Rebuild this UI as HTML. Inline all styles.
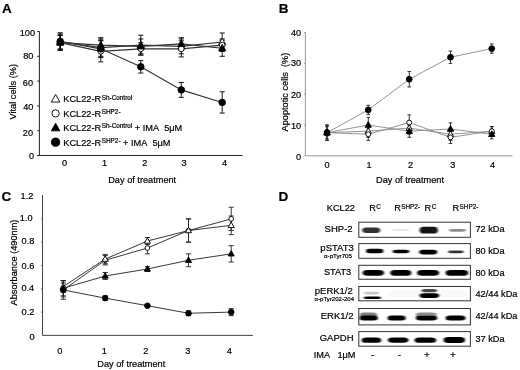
<!DOCTYPE html>
<html><head><meta charset="utf-8"><style>
html,body{margin:0;padding:0;background:#fff;}
svg{display:block;}
text{font-family:"Liberation Sans",sans-serif;fill:#000;stroke:#000;stroke-width:0.2px;}
</style></head><body>
<svg style="filter:blur(0.4px)" width="520" height="370" viewBox="0 0 520 370">
<defs><filter id="bl" x="-30%" y="-100%" width="160%" height="300%"><feGaussianBlur stdDeviation="0.9 0.6"/></filter></defs>
<rect width="520" height="370" fill="#fff"/>
<text x="2.1" y="12.8" font-size="13.5" text-anchor="start" font-weight="bold" >A</text>
<line x1="39.4" y1="31.5" x2="39.4" y2="156.0" stroke="#222" stroke-width="1"/>
<line x1="37" y1="155.5" x2="242.5" y2="155.5" stroke="#222" stroke-width="1"/>
<line x1="37.2" y1="31.5" x2="39.4" y2="31.5" stroke="#222" stroke-width="1"/>
<text x="35.0" y="36.05" font-size="9.2" text-anchor="end" font-weight="normal" >100</text>
<line x1="37.2" y1="56.3" x2="39.4" y2="56.3" stroke="#222" stroke-width="1"/>
<text x="33.4" y="58.6" font-size="9.2" text-anchor="end" font-weight="normal" >80</text>
<line x1="37.2" y1="81.1" x2="39.4" y2="81.1" stroke="#222" stroke-width="1"/>
<text x="33.1" y="85.9" font-size="9.2" text-anchor="end" font-weight="normal" >60</text>
<line x1="37.2" y1="105.9" x2="39.4" y2="105.9" stroke="#222" stroke-width="1"/>
<text x="33.4" y="110.45" font-size="9.2" text-anchor="end" font-weight="normal" >40</text>
<line x1="37.2" y1="130.7" x2="39.4" y2="130.7" stroke="#222" stroke-width="1"/>
<text x="33.1" y="135.7" font-size="9.2" text-anchor="end" font-weight="normal" >20</text>
<line x1="37.2" y1="155.5" x2="39.4" y2="155.5" stroke="#222" stroke-width="1"/>
<text x="34.1" y="158.7" font-size="9.2" text-anchor="end" font-weight="normal" >0</text>
<text x="64.6" y="165.7" font-size="9.2" text-anchor="middle" font-weight="normal" >0</text>
<text x="104.5" y="165.7" font-size="9.2" text-anchor="middle" font-weight="normal" >1</text>
<text x="144.9" y="165.7" font-size="9.2" text-anchor="middle" font-weight="normal" >2</text>
<text x="184.0" y="165.7" font-size="9.2" text-anchor="middle" font-weight="normal" >3</text>
<text x="224.6" y="165.7" font-size="9.2" text-anchor="middle" font-weight="normal" >4</text>
<text x="142.2" y="182.8" font-size="9.2" text-anchor="middle" font-weight="normal" >Day of treatment</text>
<text x="0" y="0" font-size="9.2" text-anchor="middle" transform="translate(16.0,91.7) rotate(-90)">Vital cells (%)</text>
<polyline points="60.20,41.42 100.80,47.62 140.80,45.14 181.30,46.38 222.20,42.04" fill="none" stroke="#333" stroke-width="1.1"/>
<polyline points="60.20,42.66 100.80,51.34 140.80,48.86 181.30,48.86 222.20,45.14" fill="none" stroke="#333" stroke-width="1.1"/>
<polyline points="60.20,42.66 100.80,45.14 140.80,46.38 181.30,43.90 222.20,48.24" fill="none" stroke="#333" stroke-width="1.1"/>
<polyline points="60.20,41.42 100.80,48.86 140.80,66.84 181.30,89.90 222.20,102.43" fill="none" stroke="#333" stroke-width="1.1"/>
<line x1="60.2" y1="32.739999999999995" x2="60.2" y2="50.099999999999994" stroke="#000" stroke-width="0.9"/>
<line x1="57.6" y1="32.739999999999995" x2="62.800000000000004" y2="32.739999999999995" stroke="#000" stroke-width="0.9"/>
<line x1="57.6" y1="50.099999999999994" x2="62.800000000000004" y2="50.099999999999994" stroke="#000" stroke-width="0.9"/>
<line x1="100.8" y1="38.94" x2="100.8" y2="56.3" stroke="#000" stroke-width="0.9"/>
<line x1="98.2" y1="38.94" x2="103.39999999999999" y2="38.94" stroke="#000" stroke-width="0.9"/>
<line x1="98.2" y1="56.3" x2="103.39999999999999" y2="56.3" stroke="#000" stroke-width="0.9"/>
<line x1="140.8" y1="35.22" x2="140.8" y2="55.06" stroke="#000" stroke-width="0.9"/>
<line x1="138.20000000000002" y1="35.22" x2="143.4" y2="35.22" stroke="#000" stroke-width="0.9"/>
<line x1="138.20000000000002" y1="55.06" x2="143.4" y2="55.06" stroke="#000" stroke-width="0.9"/>
<line x1="181.3" y1="38.94" x2="181.3" y2="53.81999999999999" stroke="#000" stroke-width="0.9"/>
<line x1="178.70000000000002" y1="38.94" x2="183.9" y2="38.94" stroke="#000" stroke-width="0.9"/>
<line x1="178.70000000000002" y1="53.81999999999999" x2="183.9" y2="53.81999999999999" stroke="#000" stroke-width="0.9"/>
<line x1="222.2" y1="32.988000000000014" x2="222.2" y2="51.091999999999985" stroke="#000" stroke-width="0.9"/>
<line x1="219.6" y1="32.988000000000014" x2="224.79999999999998" y2="32.988000000000014" stroke="#000" stroke-width="0.9"/>
<line x1="219.6" y1="51.091999999999985" x2="224.79999999999998" y2="51.091999999999985" stroke="#000" stroke-width="0.9"/>
<line x1="60.2" y1="35.22" x2="60.2" y2="50.099999999999994" stroke="#000" stroke-width="0.9"/>
<line x1="57.6" y1="35.22" x2="62.800000000000004" y2="35.22" stroke="#000" stroke-width="0.9"/>
<line x1="57.6" y1="50.099999999999994" x2="62.800000000000004" y2="50.099999999999994" stroke="#000" stroke-width="0.9"/>
<line x1="100.8" y1="40.8" x2="100.8" y2="61.879999999999995" stroke="#000" stroke-width="0.9"/>
<line x1="98.2" y1="40.8" x2="103.39999999999999" y2="40.8" stroke="#000" stroke-width="0.9"/>
<line x1="98.2" y1="61.879999999999995" x2="103.39999999999999" y2="61.879999999999995" stroke="#000" stroke-width="0.9"/>
<line x1="140.8" y1="42.66" x2="140.8" y2="55.06" stroke="#000" stroke-width="0.9"/>
<line x1="138.20000000000002" y1="42.66" x2="143.4" y2="42.66" stroke="#000" stroke-width="0.9"/>
<line x1="138.20000000000002" y1="55.06" x2="143.4" y2="55.06" stroke="#000" stroke-width="0.9"/>
<line x1="181.3" y1="40.8" x2="181.3" y2="56.92" stroke="#000" stroke-width="0.9"/>
<line x1="178.70000000000002" y1="40.8" x2="183.9" y2="40.8" stroke="#000" stroke-width="0.9"/>
<line x1="178.70000000000002" y1="56.92" x2="183.9" y2="56.92" stroke="#000" stroke-width="0.9"/>
<line x1="222.2" y1="38.94" x2="222.2" y2="51.34" stroke="#000" stroke-width="0.9"/>
<line x1="219.6" y1="38.94" x2="224.79999999999998" y2="38.94" stroke="#000" stroke-width="0.9"/>
<line x1="219.6" y1="51.34" x2="224.79999999999998" y2="51.34" stroke="#000" stroke-width="0.9"/>
<line x1="60.2" y1="35.22" x2="60.2" y2="50.099999999999994" stroke="#000" stroke-width="0.9"/>
<line x1="57.6" y1="35.22" x2="62.800000000000004" y2="35.22" stroke="#000" stroke-width="0.9"/>
<line x1="57.6" y1="50.099999999999994" x2="62.800000000000004" y2="50.099999999999994" stroke="#000" stroke-width="0.9"/>
<line x1="100.8" y1="37.7" x2="100.8" y2="52.58" stroke="#000" stroke-width="0.9"/>
<line x1="98.2" y1="37.7" x2="103.39999999999999" y2="37.7" stroke="#000" stroke-width="0.9"/>
<line x1="98.2" y1="52.58" x2="103.39999999999999" y2="52.58" stroke="#000" stroke-width="0.9"/>
<line x1="140.8" y1="38.94" x2="140.8" y2="53.81999999999999" stroke="#000" stroke-width="0.9"/>
<line x1="138.20000000000002" y1="38.94" x2="143.4" y2="38.94" stroke="#000" stroke-width="0.9"/>
<line x1="138.20000000000002" y1="53.81999999999999" x2="143.4" y2="53.81999999999999" stroke="#000" stroke-width="0.9"/>
<line x1="181.3" y1="37.7" x2="181.3" y2="50.099999999999994" stroke="#000" stroke-width="0.9"/>
<line x1="178.70000000000002" y1="37.7" x2="183.9" y2="37.7" stroke="#000" stroke-width="0.9"/>
<line x1="178.70000000000002" y1="50.099999999999994" x2="183.9" y2="50.099999999999994" stroke="#000" stroke-width="0.9"/>
<line x1="222.2" y1="40.18000000000001" x2="222.2" y2="56.3" stroke="#000" stroke-width="0.9"/>
<line x1="219.6" y1="40.18000000000001" x2="224.79999999999998" y2="40.18000000000001" stroke="#000" stroke-width="0.9"/>
<line x1="219.6" y1="56.3" x2="224.79999999999998" y2="56.3" stroke="#000" stroke-width="0.9"/>
<line x1="60.2" y1="33.980000000000004" x2="60.2" y2="48.86" stroke="#000" stroke-width="0.9"/>
<line x1="57.6" y1="33.980000000000004" x2="62.800000000000004" y2="33.980000000000004" stroke="#000" stroke-width="0.9"/>
<line x1="57.6" y1="48.86" x2="62.800000000000004" y2="48.86" stroke="#000" stroke-width="0.9"/>
<line x1="100.8" y1="40.18000000000001" x2="100.8" y2="57.540000000000006" stroke="#000" stroke-width="0.9"/>
<line x1="98.2" y1="40.18000000000001" x2="103.39999999999999" y2="40.18000000000001" stroke="#000" stroke-width="0.9"/>
<line x1="98.2" y1="57.540000000000006" x2="103.39999999999999" y2="57.540000000000006" stroke="#000" stroke-width="0.9"/>
<line x1="140.8" y1="60.64" x2="140.8" y2="73.04" stroke="#000" stroke-width="0.9"/>
<line x1="138.20000000000002" y1="60.64" x2="143.4" y2="60.64" stroke="#000" stroke-width="0.9"/>
<line x1="138.20000000000002" y1="73.04" x2="143.4" y2="73.04" stroke="#000" stroke-width="0.9"/>
<line x1="181.3" y1="82.464" x2="181.3" y2="97.34400000000001" stroke="#000" stroke-width="0.9"/>
<line x1="178.70000000000002" y1="82.464" x2="183.9" y2="82.464" stroke="#000" stroke-width="0.9"/>
<line x1="178.70000000000002" y1="97.34400000000001" x2="183.9" y2="97.34400000000001" stroke="#000" stroke-width="0.9"/>
<line x1="222.2" y1="91.76400000000001" x2="222.2" y2="113.09200000000001" stroke="#000" stroke-width="0.9"/>
<line x1="219.6" y1="91.76400000000001" x2="224.79999999999998" y2="91.76400000000001" stroke="#000" stroke-width="0.9"/>
<line x1="219.6" y1="113.09200000000001" x2="224.79999999999998" y2="113.09200000000001" stroke="#000" stroke-width="0.9"/>
<polygon points="60.20,37.58 56.60,43.98 63.80,43.98" fill="#fff" stroke="#000" stroke-width="0.9" stroke-linejoin="miter"/>
<polygon points="100.80,43.78 97.20,50.18 104.40,50.18" fill="#fff" stroke="#000" stroke-width="0.9" stroke-linejoin="miter"/>
<polygon points="140.80,41.30 137.20,47.70 144.40,47.70" fill="#fff" stroke="#000" stroke-width="0.9" stroke-linejoin="miter"/>
<polygon points="181.30,42.54 177.70,48.94 184.90,48.94" fill="#fff" stroke="#000" stroke-width="0.9" stroke-linejoin="miter"/>
<polygon points="222.20,38.20 218.60,44.60 225.80,44.60" fill="#fff" stroke="#000" stroke-width="0.9" stroke-linejoin="miter"/>
<circle cx="60.20" cy="42.66" r="2.85" fill="#fff" stroke="#000" stroke-width="0.9"/>
<circle cx="100.80" cy="51.34" r="2.85" fill="#fff" stroke="#000" stroke-width="0.9"/>
<circle cx="140.80" cy="48.86" r="2.85" fill="#fff" stroke="#000" stroke-width="0.9"/>
<circle cx="181.30" cy="48.86" r="2.85" fill="#fff" stroke="#000" stroke-width="0.9"/>
<circle cx="222.20" cy="45.14" r="2.85" fill="#fff" stroke="#000" stroke-width="0.9"/>
<polygon points="60.20,38.82 56.60,45.22 63.80,45.22" fill="#000" stroke="#000" stroke-width="0.9" stroke-linejoin="miter"/>
<polygon points="100.80,41.30 97.20,47.70 104.40,47.70" fill="#000" stroke="#000" stroke-width="0.9" stroke-linejoin="miter"/>
<polygon points="140.80,42.54 137.20,48.94 144.40,48.94" fill="#000" stroke="#000" stroke-width="0.9" stroke-linejoin="miter"/>
<polygon points="181.30,40.06 177.70,46.46 184.90,46.46" fill="#000" stroke="#000" stroke-width="0.9" stroke-linejoin="miter"/>
<polygon points="222.20,44.40 218.60,50.80 225.80,50.80" fill="#000" stroke="#000" stroke-width="0.9" stroke-linejoin="miter"/>
<circle cx="60.20" cy="41.42" r="3.30" fill="#000" stroke="#000" stroke-width="0.9"/>
<circle cx="100.80" cy="48.86" r="3.30" fill="#000" stroke="#000" stroke-width="0.9"/>
<circle cx="140.80" cy="66.84" r="3.30" fill="#000" stroke="#000" stroke-width="0.9"/>
<circle cx="181.30" cy="89.90" r="3.30" fill="#000" stroke="#000" stroke-width="0.9"/>
<circle cx="222.20" cy="102.43" r="3.30" fill="#000" stroke="#000" stroke-width="0.9"/>
<polygon points="55.60,94.47 51.35,102.02 59.85,102.02" fill="#fff" stroke="#000" stroke-width="0.9" stroke-linejoin="miter"/>
<text x="63.3" y="102.40" font-size="9.2">KCL22-R<tspan font-size="6.4" dy="-2.8" dx="0.6">Sh-Control</tspan><tspan dy="2.8"></tspan></text>
<circle cx="55.60" cy="113.40" r="3.67" fill="#fff" stroke="#000" stroke-width="0.9"/>
<text x="63.3" y="116.80" font-size="9.2">KCL22-R<tspan font-size="6.4" dy="-2.8" dx="0.6">SHP2-</tspan><tspan dy="2.8"></tspan></text>
<polygon points="55.60,123.27 51.35,130.82 59.85,130.82" fill="#000" stroke="#000" stroke-width="0.9" stroke-linejoin="miter"/>
<text x="63.3" y="131.20" font-size="9.2">KCL22-R<tspan font-size="6.4" dy="-2.8" dx="0.6">Sh-Control</tspan><tspan dy="2.8"> + IMA&#160;&#160;5μM</tspan></text>
<circle cx="55.60" cy="142.20" r="4.12" fill="#000" stroke="#000" stroke-width="0.9"/>
<text x="63.3" y="145.60" font-size="9.2">KCL22-R<tspan font-size="6.4" dy="-2.8" dx="0.6">SHP2-</tspan><tspan dy="2.8"> + IMA&#160;&#160;5μM</tspan></text>
<text x="278.8" y="12.7" font-size="13.5" text-anchor="start" font-weight="bold" >B</text>
<line x1="305.4" y1="32.1" x2="305.4" y2="155.8" stroke="#999" stroke-width="1"/>
<line x1="305.4" y1="155.8" x2="512.5" y2="155.8" stroke="#999" stroke-width="1"/>
<line x1="304.09999999999997" y1="32.6" x2="305.4" y2="32.6" stroke="#999" stroke-width="1"/>
<text x="301.2" y="35.8" font-size="9.2" text-anchor="end" font-weight="normal" >40</text>
<line x1="304.09999999999997" y1="63.400000000000006" x2="305.4" y2="63.400000000000006" stroke="#999" stroke-width="1"/>
<text x="301.2" y="65.97" font-size="9.2" text-anchor="end" font-weight="normal" >30</text>
<line x1="304.09999999999997" y1="94.20000000000002" x2="305.4" y2="94.20000000000002" stroke="#999" stroke-width="1"/>
<text x="301.2" y="97.7" font-size="9.2" text-anchor="end" font-weight="normal" >20</text>
<line x1="304.09999999999997" y1="125.0" x2="305.4" y2="125.0" stroke="#999" stroke-width="1"/>
<text x="301.2" y="128.8" font-size="9.2" text-anchor="end" font-weight="normal" >10</text>
<line x1="304.09999999999997" y1="155.8" x2="305.4" y2="155.8" stroke="#999" stroke-width="1"/>
<text x="301.2" y="160.2" font-size="9.2" text-anchor="end" font-weight="normal" >0</text>
<text x="327.0" y="167.6" font-size="9.2" text-anchor="middle" font-weight="normal" >0</text>
<text x="369.0" y="167.6" font-size="9.2" text-anchor="middle" font-weight="normal" >1</text>
<text x="410.5" y="167.6" font-size="9.2" text-anchor="middle" font-weight="normal" >2</text>
<text x="452.8" y="167.6" font-size="9.2" text-anchor="middle" font-weight="normal" >3</text>
<text x="492.5" y="167.6" font-size="9.2" text-anchor="middle" font-weight="normal" >4</text>
<text x="410" y="183.2" font-size="9.2" text-anchor="middle" font-weight="normal" >Day of treatment</text>
<text x="0" y="0" font-size="9.2" text-anchor="middle" transform="translate(287.8,92.1) rotate(-90)">Apoptotic cells&#160;&#160;(%)</text>
<polyline points="327.00,132.70 368.25,131.16 409.25,128.08 450.50,134.24 491.75,131.16" fill="none" stroke="#888" stroke-width="0.9"/>
<polyline points="327.00,132.70 368.25,134.24 409.25,122.54 450.50,137.32 491.75,131.16" fill="none" stroke="#888" stroke-width="0.9"/>
<polyline points="327.00,132.70 368.25,125.00 409.25,131.16 450.50,129.00 491.75,134.24" fill="none" stroke="#888" stroke-width="0.9"/>
<polyline points="327.00,132.70 368.25,109.91 409.25,79.26 450.50,57.24 491.75,48.62" fill="none" stroke="#888" stroke-width="0.9"/>
<line x1="327.0" y1="125.0" x2="327.0" y2="140.4" stroke="#222" stroke-width="0.9"/>
<line x1="325.2" y1="125.0" x2="328.8" y2="125.0" stroke="#222" stroke-width="0.9"/>
<line x1="325.2" y1="140.4" x2="328.8" y2="140.4" stroke="#222" stroke-width="0.9"/>
<line x1="368.25" y1="125.0" x2="368.25" y2="137.32000000000002" stroke="#222" stroke-width="0.9"/>
<line x1="366.45" y1="125.0" x2="370.05" y2="125.0" stroke="#222" stroke-width="0.9"/>
<line x1="366.45" y1="137.32000000000002" x2="370.05" y2="137.32000000000002" stroke="#222" stroke-width="0.9"/>
<line x1="409.25" y1="121.92" x2="409.25" y2="134.24" stroke="#222" stroke-width="0.9"/>
<line x1="407.45" y1="121.92" x2="411.05" y2="121.92" stroke="#222" stroke-width="0.9"/>
<line x1="407.45" y1="134.24" x2="411.05" y2="134.24" stroke="#222" stroke-width="0.9"/>
<line x1="450.5" y1="128.08" x2="450.5" y2="140.4" stroke="#222" stroke-width="0.9"/>
<line x1="448.7" y1="128.08" x2="452.3" y2="128.08" stroke="#222" stroke-width="0.9"/>
<line x1="448.7" y1="140.4" x2="452.3" y2="140.4" stroke="#222" stroke-width="0.9"/>
<line x1="491.75" y1="126.54" x2="491.75" y2="135.78" stroke="#222" stroke-width="0.9"/>
<line x1="489.95" y1="126.54" x2="493.55" y2="126.54" stroke="#222" stroke-width="0.9"/>
<line x1="489.95" y1="135.78" x2="493.55" y2="135.78" stroke="#222" stroke-width="0.9"/>
<line x1="327.0" y1="126.54" x2="327.0" y2="138.86" stroke="#222" stroke-width="0.9"/>
<line x1="325.2" y1="126.54" x2="328.8" y2="126.54" stroke="#222" stroke-width="0.9"/>
<line x1="325.2" y1="138.86" x2="328.8" y2="138.86" stroke="#222" stroke-width="0.9"/>
<line x1="368.25" y1="128.08" x2="368.25" y2="140.4" stroke="#222" stroke-width="0.9"/>
<line x1="366.45" y1="128.08" x2="370.05" y2="128.08" stroke="#222" stroke-width="0.9"/>
<line x1="366.45" y1="140.4" x2="370.05" y2="140.4" stroke="#222" stroke-width="0.9"/>
<line x1="409.25" y1="114.836" x2="409.25" y2="130.23600000000002" stroke="#222" stroke-width="0.9"/>
<line x1="407.45" y1="114.836" x2="411.05" y2="114.836" stroke="#222" stroke-width="0.9"/>
<line x1="407.45" y1="130.23600000000002" x2="411.05" y2="130.23600000000002" stroke="#222" stroke-width="0.9"/>
<line x1="450.5" y1="131.16" x2="450.5" y2="143.48000000000002" stroke="#222" stroke-width="0.9"/>
<line x1="448.7" y1="131.16" x2="452.3" y2="131.16" stroke="#222" stroke-width="0.9"/>
<line x1="448.7" y1="143.48000000000002" x2="452.3" y2="143.48000000000002" stroke="#222" stroke-width="0.9"/>
<line x1="491.75" y1="126.54" x2="491.75" y2="135.78" stroke="#222" stroke-width="0.9"/>
<line x1="489.95" y1="126.54" x2="493.55" y2="126.54" stroke="#222" stroke-width="0.9"/>
<line x1="489.95" y1="135.78" x2="493.55" y2="135.78" stroke="#222" stroke-width="0.9"/>
<line x1="327.0" y1="125.0" x2="327.0" y2="140.4" stroke="#222" stroke-width="0.9"/>
<line x1="325.2" y1="125.0" x2="328.8" y2="125.0" stroke="#222" stroke-width="0.9"/>
<line x1="325.2" y1="140.4" x2="328.8" y2="140.4" stroke="#222" stroke-width="0.9"/>
<line x1="368.25" y1="117.30000000000001" x2="368.25" y2="132.70000000000002" stroke="#222" stroke-width="0.9"/>
<line x1="366.45" y1="117.30000000000001" x2="370.05" y2="117.30000000000001" stroke="#222" stroke-width="0.9"/>
<line x1="366.45" y1="132.70000000000002" x2="370.05" y2="132.70000000000002" stroke="#222" stroke-width="0.9"/>
<line x1="409.25" y1="125.0" x2="409.25" y2="137.32000000000002" stroke="#222" stroke-width="0.9"/>
<line x1="407.45" y1="125.0" x2="411.05" y2="125.0" stroke="#222" stroke-width="0.9"/>
<line x1="407.45" y1="137.32000000000002" x2="411.05" y2="137.32000000000002" stroke="#222" stroke-width="0.9"/>
<line x1="450.5" y1="122.84400000000001" x2="450.5" y2="135.16400000000002" stroke="#222" stroke-width="0.9"/>
<line x1="448.7" y1="122.84400000000001" x2="452.3" y2="122.84400000000001" stroke="#222" stroke-width="0.9"/>
<line x1="448.7" y1="135.16400000000002" x2="452.3" y2="135.16400000000002" stroke="#222" stroke-width="0.9"/>
<line x1="491.75" y1="129.62" x2="491.75" y2="138.86" stroke="#222" stroke-width="0.9"/>
<line x1="489.95" y1="129.62" x2="493.55" y2="129.62" stroke="#222" stroke-width="0.9"/>
<line x1="489.95" y1="138.86" x2="493.55" y2="138.86" stroke="#222" stroke-width="0.9"/>
<line x1="327.0" y1="129.62" x2="327.0" y2="135.78" stroke="#222" stroke-width="0.9"/>
<line x1="325.2" y1="129.62" x2="328.8" y2="129.62" stroke="#222" stroke-width="0.9"/>
<line x1="325.2" y1="135.78" x2="328.8" y2="135.78" stroke="#222" stroke-width="0.9"/>
<line x1="368.25" y1="105.28800000000001" x2="368.25" y2="114.528" stroke="#222" stroke-width="0.9"/>
<line x1="366.45" y1="105.28800000000001" x2="370.05" y2="105.28800000000001" stroke="#222" stroke-width="0.9"/>
<line x1="366.45" y1="114.528" x2="370.05" y2="114.528" stroke="#222" stroke-width="0.9"/>
<line x1="409.25" y1="71.562" x2="409.25" y2="86.962" stroke="#222" stroke-width="0.9"/>
<line x1="407.45" y1="71.562" x2="411.05" y2="71.562" stroke="#222" stroke-width="0.9"/>
<line x1="407.45" y1="86.962" x2="411.05" y2="86.962" stroke="#222" stroke-width="0.9"/>
<line x1="450.5" y1="51.08000000000001" x2="450.5" y2="63.400000000000006" stroke="#222" stroke-width="0.9"/>
<line x1="448.7" y1="51.08000000000001" x2="452.3" y2="51.08000000000001" stroke="#222" stroke-width="0.9"/>
<line x1="448.7" y1="63.400000000000006" x2="452.3" y2="63.400000000000006" stroke="#222" stroke-width="0.9"/>
<line x1="491.75" y1="43.99600000000001" x2="491.75" y2="53.236000000000004" stroke="#222" stroke-width="0.9"/>
<line x1="489.95" y1="43.99600000000001" x2="493.55" y2="43.99600000000001" stroke="#222" stroke-width="0.9"/>
<line x1="489.95" y1="53.236000000000004" x2="493.55" y2="53.236000000000004" stroke="#222" stroke-width="0.9"/>
<polygon points="327.00,129.32 323.83,134.95 330.17,134.95" fill="#fff" stroke="#000" stroke-width="0.9" stroke-linejoin="miter"/>
<polygon points="368.25,127.78 365.08,133.41 371.42,133.41" fill="#fff" stroke="#000" stroke-width="0.9" stroke-linejoin="miter"/>
<polygon points="409.25,124.70 406.08,130.33 412.42,130.33" fill="#fff" stroke="#000" stroke-width="0.9" stroke-linejoin="miter"/>
<polygon points="450.50,130.86 447.33,136.49 453.67,136.49" fill="#fff" stroke="#000" stroke-width="0.9" stroke-linejoin="miter"/>
<polygon points="491.75,127.78 488.58,133.41 494.92,133.41" fill="#fff" stroke="#000" stroke-width="0.9" stroke-linejoin="miter"/>
<circle cx="327.00" cy="132.70" r="2.45" fill="#fff" stroke="#000" stroke-width="0.9"/>
<circle cx="368.25" cy="134.24" r="2.45" fill="#fff" stroke="#000" stroke-width="0.9"/>
<circle cx="409.25" cy="122.54" r="2.45" fill="#fff" stroke="#000" stroke-width="0.9"/>
<circle cx="450.50" cy="137.32" r="2.45" fill="#fff" stroke="#000" stroke-width="0.9"/>
<circle cx="491.75" cy="131.16" r="2.45" fill="#fff" stroke="#000" stroke-width="0.9"/>
<polygon points="327.00,129.32 323.83,134.95 330.17,134.95" fill="#000" stroke="#000" stroke-width="0.9" stroke-linejoin="miter"/>
<polygon points="368.25,121.62 365.08,127.25 371.42,127.25" fill="#000" stroke="#000" stroke-width="0.9" stroke-linejoin="miter"/>
<polygon points="409.25,127.78 406.08,133.41 412.42,133.41" fill="#000" stroke="#000" stroke-width="0.9" stroke-linejoin="miter"/>
<polygon points="450.50,125.62 447.33,131.26 453.67,131.26" fill="#000" stroke="#000" stroke-width="0.9" stroke-linejoin="miter"/>
<polygon points="491.75,130.86 488.58,136.49 494.92,136.49" fill="#000" stroke="#000" stroke-width="0.9" stroke-linejoin="miter"/>
<circle cx="327.00" cy="132.70" r="2.90" fill="#000" stroke="#000" stroke-width="0.9"/>
<circle cx="368.25" cy="109.91" r="2.90" fill="#000" stroke="#000" stroke-width="0.9"/>
<circle cx="409.25" cy="79.26" r="2.90" fill="#000" stroke="#000" stroke-width="0.9"/>
<circle cx="450.50" cy="57.24" r="2.90" fill="#000" stroke="#000" stroke-width="0.9"/>
<circle cx="491.75" cy="48.62" r="2.90" fill="#000" stroke="#000" stroke-width="0.9"/>
<text x="1.4" y="201.0" font-size="13.5" text-anchor="start" font-weight="bold" >C</text>
<line x1="42.5" y1="195.0" x2="42.5" y2="335.4" stroke="#444" stroke-width="1"/>
<line x1="42.5" y1="335.4" x2="253" y2="335.4" stroke="#444" stroke-width="1"/>
<text x="33.4" y="198.9" font-size="9.2" text-anchor="end" font-weight="normal" >1.2</text>
<text x="32.6" y="220.9" font-size="9.2" text-anchor="end" font-weight="normal" >1.0</text>
<text x="34.4" y="243.9" font-size="9.2" text-anchor="end" font-weight="normal" >0.8</text>
<text x="34.4" y="269.4" font-size="9.2" text-anchor="end" font-weight="normal" >0.6</text>
<text x="34.2" y="291.3" font-size="9.2" text-anchor="end" font-weight="normal" >0.4</text>
<text x="34.4" y="315.15" font-size="9.2" text-anchor="end" font-weight="normal" >0.2</text>
<text x="34.7" y="339.95" font-size="9.2" text-anchor="end" font-weight="normal" >0</text>
<line x1="41.3" y1="312.09999999999997" x2="42.5" y2="312.09999999999997" stroke="#444" stroke-width="1"/>
<line x1="41.3" y1="288.79999999999995" x2="42.5" y2="288.79999999999995" stroke="#444" stroke-width="1"/>
<line x1="41.3" y1="265.5" x2="42.5" y2="265.5" stroke="#444" stroke-width="1"/>
<line x1="41.3" y1="242.2" x2="42.5" y2="242.2" stroke="#444" stroke-width="1"/>
<line x1="41.3" y1="218.9" x2="42.5" y2="218.9" stroke="#444" stroke-width="1"/>
<text x="59.9" y="354.2" font-size="9.2" text-anchor="middle" font-weight="normal" >0</text>
<text x="104.2" y="354.2" font-size="9.2" text-anchor="middle" font-weight="normal" >1</text>
<text x="145.8" y="354.2" font-size="9.2" text-anchor="middle" font-weight="normal" >2</text>
<text x="187.8" y="354.2" font-size="9.2" text-anchor="middle" font-weight="normal" >3</text>
<text x="229.3" y="354.2" font-size="9.2" text-anchor="middle" font-weight="normal" >4</text>
<text x="131.3" y="367.0" font-size="9.2" text-anchor="middle" font-weight="normal" >Day of treatment</text>
<text x="0" y="0" font-size="9.2" text-anchor="middle" transform="translate(17.4,262.5) rotate(-90)">Absorbance (490nm)</text>
<polyline points="63.30,289.96 105.20,260.26 147.40,248.03 188.50,230.55 231.20,218.90" fill="none" stroke="#222" stroke-width="0.9"/>
<polyline points="63.30,286.47 105.20,259.09 147.40,241.03 188.50,230.55 231.20,225.31" fill="none" stroke="#222" stroke-width="0.9"/>
<polyline points="63.30,289.96 105.20,298.12 147.40,305.69 188.50,313.26 231.20,312.10" fill="none" stroke="#222" stroke-width="0.9"/>
<polyline points="63.30,288.22 105.20,275.99 147.40,269.00 188.50,260.26 231.20,253.85" fill="none" stroke="#222" stroke-width="0.9"/>
<line x1="63.3" y1="280.645" x2="63.3" y2="299.28499999999997" stroke="#222" stroke-width="0.9"/>
<line x1="60.699999999999996" y1="280.645" x2="65.89999999999999" y2="280.645" stroke="#222" stroke-width="0.9"/>
<line x1="60.699999999999996" y1="299.28499999999997" x2="65.89999999999999" y2="299.28499999999997" stroke="#222" stroke-width="0.9"/>
<line x1="105.2" y1="255.5975" x2="105.2" y2="264.9175" stroke="#222" stroke-width="0.9"/>
<line x1="102.60000000000001" y1="255.5975" x2="107.8" y2="255.5975" stroke="#222" stroke-width="0.9"/>
<line x1="102.60000000000001" y1="264.9175" x2="107.8" y2="264.9175" stroke="#222" stroke-width="0.9"/>
<line x1="147.4" y1="242.2" x2="147.4" y2="253.85000000000002" stroke="#222" stroke-width="0.9"/>
<line x1="144.8" y1="242.2" x2="150.0" y2="242.2" stroke="#222" stroke-width="0.9"/>
<line x1="144.8" y1="253.85000000000002" x2="150.0" y2="253.85000000000002" stroke="#222" stroke-width="0.9"/>
<line x1="188.5" y1="218.9" x2="188.5" y2="242.2" stroke="#222" stroke-width="0.9"/>
<line x1="185.9" y1="218.9" x2="191.1" y2="218.9" stroke="#222" stroke-width="0.9"/>
<line x1="185.9" y1="242.2" x2="191.1" y2="242.2" stroke="#222" stroke-width="0.9"/>
<line x1="231.2" y1="207.25" x2="231.2" y2="230.55" stroke="#222" stroke-width="0.9"/>
<line x1="228.6" y1="207.25" x2="233.79999999999998" y2="207.25" stroke="#222" stroke-width="0.9"/>
<line x1="228.6" y1="230.55" x2="233.79999999999998" y2="230.55" stroke="#222" stroke-width="0.9"/>
<line x1="63.3" y1="280.645" x2="63.3" y2="292.29499999999996" stroke="#222" stroke-width="0.9"/>
<line x1="60.699999999999996" y1="280.645" x2="65.89999999999999" y2="280.645" stroke="#222" stroke-width="0.9"/>
<line x1="60.699999999999996" y1="292.29499999999996" x2="65.89999999999999" y2="292.29499999999996" stroke="#222" stroke-width="0.9"/>
<line x1="105.2" y1="254.4325" x2="105.2" y2="263.7525" stroke="#222" stroke-width="0.9"/>
<line x1="102.60000000000001" y1="254.4325" x2="107.8" y2="254.4325" stroke="#222" stroke-width="0.9"/>
<line x1="102.60000000000001" y1="263.7525" x2="107.8" y2="263.7525" stroke="#222" stroke-width="0.9"/>
<line x1="147.4" y1="237.54" x2="147.4" y2="244.53" stroke="#222" stroke-width="0.9"/>
<line x1="144.8" y1="237.54" x2="150.0" y2="237.54" stroke="#222" stroke-width="0.9"/>
<line x1="144.8" y1="244.53" x2="150.0" y2="244.53" stroke="#222" stroke-width="0.9"/>
<line x1="188.5" y1="218.9" x2="188.5" y2="242.2" stroke="#222" stroke-width="0.9"/>
<line x1="185.9" y1="218.9" x2="191.1" y2="218.9" stroke="#222" stroke-width="0.9"/>
<line x1="185.9" y1="242.2" x2="191.1" y2="242.2" stroke="#222" stroke-width="0.9"/>
<line x1="231.2" y1="215.9875" x2="231.2" y2="234.6275" stroke="#222" stroke-width="0.9"/>
<line x1="228.6" y1="215.9875" x2="233.79999999999998" y2="215.9875" stroke="#222" stroke-width="0.9"/>
<line x1="228.6" y1="234.6275" x2="233.79999999999998" y2="234.6275" stroke="#222" stroke-width="0.9"/>
<line x1="63.3" y1="282.97499999999997" x2="63.3" y2="296.955" stroke="#222" stroke-width="0.9"/>
<line x1="60.699999999999996" y1="282.97499999999997" x2="65.89999999999999" y2="282.97499999999997" stroke="#222" stroke-width="0.9"/>
<line x1="60.699999999999996" y1="296.955" x2="65.89999999999999" y2="296.955" stroke="#222" stroke-width="0.9"/>
<line x1="105.2" y1="295.78999999999996" x2="105.2" y2="300.45" stroke="#222" stroke-width="0.9"/>
<line x1="102.60000000000001" y1="295.78999999999996" x2="107.8" y2="295.78999999999996" stroke="#222" stroke-width="0.9"/>
<line x1="102.60000000000001" y1="300.45" x2="107.8" y2="300.45" stroke="#222" stroke-width="0.9"/>
<line x1="147.4" y1="304.5275" x2="147.4" y2="306.85749999999996" stroke="#222" stroke-width="0.9"/>
<line x1="144.8" y1="304.5275" x2="150.0" y2="304.5275" stroke="#222" stroke-width="0.9"/>
<line x1="144.8" y1="306.85749999999996" x2="150.0" y2="306.85749999999996" stroke="#222" stroke-width="0.9"/>
<line x1="188.5" y1="310.935" x2="188.5" y2="315.59499999999997" stroke="#222" stroke-width="0.9"/>
<line x1="185.9" y1="310.935" x2="191.1" y2="310.935" stroke="#222" stroke-width="0.9"/>
<line x1="185.9" y1="315.59499999999997" x2="191.1" y2="315.59499999999997" stroke="#222" stroke-width="0.9"/>
<line x1="231.2" y1="308.60499999999996" x2="231.2" y2="315.59499999999997" stroke="#222" stroke-width="0.9"/>
<line x1="228.6" y1="308.60499999999996" x2="233.79999999999998" y2="308.60499999999996" stroke="#222" stroke-width="0.9"/>
<line x1="228.6" y1="315.59499999999997" x2="233.79999999999998" y2="315.59499999999997" stroke="#222" stroke-width="0.9"/>
<line x1="63.3" y1="280.645" x2="63.3" y2="295.78999999999996" stroke="#222" stroke-width="0.9"/>
<line x1="60.699999999999996" y1="280.645" x2="65.89999999999999" y2="280.645" stroke="#222" stroke-width="0.9"/>
<line x1="60.699999999999996" y1="295.78999999999996" x2="65.89999999999999" y2="295.78999999999996" stroke="#222" stroke-width="0.9"/>
<line x1="105.2" y1="272.49" x2="105.2" y2="279.48" stroke="#222" stroke-width="0.9"/>
<line x1="102.60000000000001" y1="272.49" x2="107.8" y2="272.49" stroke="#222" stroke-width="0.9"/>
<line x1="102.60000000000001" y1="279.48" x2="107.8" y2="279.48" stroke="#222" stroke-width="0.9"/>
<line x1="147.4" y1="266.66499999999996" x2="147.4" y2="271.325" stroke="#222" stroke-width="0.9"/>
<line x1="144.8" y1="266.66499999999996" x2="150.0" y2="266.66499999999996" stroke="#222" stroke-width="0.9"/>
<line x1="144.8" y1="271.325" x2="150.0" y2="271.325" stroke="#222" stroke-width="0.9"/>
<line x1="188.5" y1="253.85" x2="188.5" y2="266.66499999999996" stroke="#222" stroke-width="0.9"/>
<line x1="185.9" y1="253.85" x2="191.1" y2="253.85" stroke="#222" stroke-width="0.9"/>
<line x1="185.9" y1="266.66499999999996" x2="191.1" y2="266.66499999999996" stroke="#222" stroke-width="0.9"/>
<line x1="231.2" y1="245.695" x2="231.2" y2="262.005" stroke="#222" stroke-width="0.9"/>
<line x1="228.6" y1="245.695" x2="233.79999999999998" y2="245.695" stroke="#222" stroke-width="0.9"/>
<line x1="228.6" y1="262.005" x2="233.79999999999998" y2="262.005" stroke="#222" stroke-width="0.9"/>
<circle cx="63.30" cy="289.96" r="2.35" fill="#fff" stroke="#000" stroke-width="0.9"/>
<circle cx="105.20" cy="260.26" r="2.35" fill="#fff" stroke="#000" stroke-width="0.9"/>
<circle cx="147.40" cy="248.03" r="2.35" fill="#fff" stroke="#000" stroke-width="0.9"/>
<circle cx="188.50" cy="230.55" r="2.35" fill="#fff" stroke="#000" stroke-width="0.9"/>
<circle cx="231.20" cy="218.90" r="2.35" fill="#fff" stroke="#000" stroke-width="0.9"/>
<polygon points="63.30,283.21 60.24,288.65 66.36,288.65" fill="#fff" stroke="#000" stroke-width="0.9" stroke-linejoin="miter"/>
<polygon points="105.20,255.83 102.14,261.27 108.26,261.27" fill="#fff" stroke="#000" stroke-width="0.9" stroke-linejoin="miter"/>
<polygon points="147.40,237.77 144.34,243.21 150.46,243.21" fill="#fff" stroke="#000" stroke-width="0.9" stroke-linejoin="miter"/>
<polygon points="188.50,227.29 185.44,232.73 191.56,232.73" fill="#fff" stroke="#000" stroke-width="0.9" stroke-linejoin="miter"/>
<polygon points="231.20,222.04 228.14,227.48 234.26,227.48" fill="#fff" stroke="#000" stroke-width="0.9" stroke-linejoin="miter"/>
<circle cx="63.30" cy="289.96" r="2.80" fill="#000" stroke="#000" stroke-width="0.9"/>
<circle cx="105.20" cy="298.12" r="2.80" fill="#000" stroke="#000" stroke-width="0.9"/>
<circle cx="147.40" cy="305.69" r="2.80" fill="#000" stroke="#000" stroke-width="0.9"/>
<circle cx="188.50" cy="313.26" r="2.80" fill="#000" stroke="#000" stroke-width="0.9"/>
<circle cx="231.20" cy="312.10" r="2.80" fill="#000" stroke="#000" stroke-width="0.9"/>
<polygon points="63.30,284.95 60.24,290.39 66.36,290.39" fill="#000" stroke="#000" stroke-width="0.9" stroke-linejoin="miter"/>
<polygon points="105.20,272.72 102.14,278.16 108.26,278.16" fill="#000" stroke="#000" stroke-width="0.9" stroke-linejoin="miter"/>
<polygon points="147.40,265.73 144.34,271.17 150.46,271.17" fill="#000" stroke="#000" stroke-width="0.9" stroke-linejoin="miter"/>
<polygon points="188.50,256.99 185.44,262.43 191.56,262.43" fill="#000" stroke="#000" stroke-width="0.9" stroke-linejoin="miter"/>
<polygon points="231.20,250.59 228.14,256.03 234.26,256.03" fill="#000" stroke="#000" stroke-width="0.9" stroke-linejoin="miter"/>
<text x="278.6" y="200.7" font-size="13.5" text-anchor="start" font-weight="bold" >D</text>
<text x="326.8" y="211.4" font-size="9.2" text-anchor="start" font-weight="normal" >KCL22</text>
<text x="369.2" y="211.4" font-size="9.2">R<tspan font-size="6.4" dy="-2.9" dx="0.4">C</tspan></text>
<text x="394.2" y="211.4" font-size="9.2">R<tspan font-size="6.4" dy="-2.9" dx="0.4">SHP2-</tspan></text>
<text x="424.6" y="211.4" font-size="9.2">R<tspan font-size="6.4" dy="-2.9" dx="0.4">C</tspan></text>
<text x="452.5" y="211.4" font-size="9.2">R<tspan font-size="6.4" dy="-2.9" dx="0.4">SHP2-</tspan></text>
<rect x="358.8" y="222.2" width="111.6" height="15.10" fill="#fff" stroke="#333" stroke-width="1"/>
<rect x="362.30" y="227.60" width="17.90" height="5.30" rx="3.94" ry="2.65" fill="#000" fill-opacity="0.8" filter="url(#bl)"/>
<rect x="391.40" y="229.20" width="18.00" height="1.60" rx="3.96" ry="0.80" fill="#000" fill-opacity="0.13" filter="url(#bl)"/>
<rect x="419.60" y="226.80" width="18.20" height="6.80" rx="4.00" ry="3.40" fill="#000" fill-opacity="0.92" filter="url(#bl)"/>
<rect x="448.70" y="229.00" width="17.30" height="2.70" rx="3.81" ry="1.35" fill="#000" fill-opacity="0.45" filter="url(#bl)"/>
<text x="352.6" y="232.4" font-size="9.5" text-anchor="end" font-weight="normal" >SHP-2</text>
<text x="475.5" y="232.4" font-size="9.2" text-anchor="start" font-weight="normal" >72 kDa</text>
<rect x="358.8" y="243.6" width="111.6" height="14.70" fill="#fff" stroke="#333" stroke-width="1"/>
<rect x="366.00" y="248.80" width="17.40" height="4.40" rx="3.83" ry="2.20" fill="#000" fill-opacity="1" filter="url(#bl)"/>
<rect x="392.60" y="249.80" width="16.80" height="3.40" rx="3.70" ry="1.70" fill="#000" fill-opacity="1" filter="url(#bl)"/>
<rect x="419.20" y="249.80" width="18.00" height="4.60" rx="3.96" ry="2.30" fill="#000" fill-opacity="1" filter="url(#bl)"/>
<rect x="448.00" y="250.50" width="15.70" height="2.70" rx="3.45" ry="1.35" fill="#000" fill-opacity="0.8" filter="url(#bl)"/>
<text x="353.8" y="250.5" font-size="9.5" text-anchor="end" font-weight="normal" >pSTAT3</text>
<text x="352.0" y="258.4" font-size="6.2" text-anchor="end" font-weight="normal" >α-pTyr705</text>
<text x="475.5" y="254.0" font-size="9.2" text-anchor="start" font-weight="normal" >80 kDa</text>
<rect x="358.8" y="265.3" width="111.6" height="13.95" fill="#fff" stroke="#333" stroke-width="1"/>
<rect x="362.60" y="269.90" width="21.40" height="5.80" rx="4.71" ry="2.90" fill="#000" fill-opacity="1" filter="url(#bl)"/>
<rect x="390.30" y="270.10" width="21.00" height="5.60" rx="4.62" ry="2.80" fill="#000" fill-opacity="1" filter="url(#bl)"/>
<rect x="417.00" y="269.90" width="22.10" height="5.80" rx="4.86" ry="2.90" fill="#000" fill-opacity="1" filter="url(#bl)"/>
<rect x="445.60" y="270.10" width="22.60" height="5.60" rx="4.97" ry="2.80" fill="#000" fill-opacity="1" filter="url(#bl)"/>
<text x="351.2" y="274.8" font-size="9.2" text-anchor="end" font-weight="normal" >STAT3</text>
<text x="475.5" y="275.5" font-size="9.2" text-anchor="start" font-weight="normal" >80 kDa</text>
<rect x="358.8" y="286.5" width="111.6" height="14.30" fill="#fff" stroke="#333" stroke-width="1"/>
<rect x="388.80" y="290.10" width="78.40" height="7.80" rx="2.00" ry="2.00" fill="#000" fill-opacity="0.025" filter="url(#bl)"/>
<rect x="363.70" y="296.60" width="17.30" height="2.50" rx="3.81" ry="1.25" fill="#000" fill-opacity="1" filter="url(#bl)"/>
<rect x="363.70" y="291.80" width="15.70" height="2.60" rx="3.45" ry="1.30" fill="#000" fill-opacity="0.22" filter="url(#bl)"/>
<rect x="421.40" y="289.00" width="15.80" height="3.20" rx="3.48" ry="1.60" fill="#000" fill-opacity="0.72" filter="url(#bl)"/>
<rect x="419.60" y="293.20" width="19.60" height="4.80" rx="4.31" ry="2.40" fill="#000" fill-opacity="1" filter="url(#bl)"/>
<text x="352.8" y="294.3" font-size="9.5" text-anchor="end" font-weight="normal" >pERK1/2</text>
<text x="354.0" y="301.1" font-size="6.05" text-anchor="end" font-weight="normal" >α-pTyr202-204</text>
<text x="475.5" y="297.3" font-size="9.2" text-anchor="start" font-weight="normal" >42/44 kDa</text>
<rect x="358.8" y="308.5" width="111.6" height="16.40" fill="#fff" stroke="#333" stroke-width="1"/>
<rect x="359.60" y="315.40" width="18.20" height="5.00" rx="4.00" ry="2.50" fill="#000" fill-opacity="1" filter="url(#bl)"/>
<rect x="359.80" y="312.40" width="17.40" height="5.00" rx="3.83" ry="2.50" fill="#000" fill-opacity="0.5" filter="url(#bl)"/>
<rect x="387.50" y="315.40" width="18.20" height="5.00" rx="4.00" ry="2.50" fill="#000" fill-opacity="1" filter="url(#bl)"/>
<rect x="415.80" y="315.80" width="21.50" height="4.60" rx="4.73" ry="2.30" fill="#000" fill-opacity="1" filter="url(#bl)"/>
<rect x="415.80" y="312.60" width="20.90" height="4.80" rx="4.60" ry="2.40" fill="#000" fill-opacity="0.45" filter="url(#bl)"/>
<rect x="445.60" y="315.40" width="19.90" height="5.00" rx="4.38" ry="2.50" fill="#000" fill-opacity="1" filter="url(#bl)"/>
<text x="353.5" y="319.0" font-size="9.5" text-anchor="end" font-weight="normal" >ERK1/2</text>
<text x="475.5" y="319.4" font-size="9.2" text-anchor="start" font-weight="normal" >42/44 kDa</text>
<rect x="358.8" y="331.6" width="111.6" height="14.60" fill="#fff" stroke="#333" stroke-width="1"/>
<rect x="361.80" y="337.60" width="19.30" height="5.20" rx="4.25" ry="2.60" fill="#000" fill-opacity="1" filter="url(#bl)"/>
<rect x="388.00" y="337.40" width="20.40" height="5.40" rx="4.49" ry="2.70" fill="#000" fill-opacity="1" filter="url(#bl)"/>
<rect x="414.60" y="337.60" width="21.50" height="5.20" rx="4.73" ry="2.60" fill="#000" fill-opacity="1" filter="url(#bl)"/>
<rect x="443.50" y="337.00" width="21.50" height="6.10" rx="4.73" ry="3.05" fill="#000" fill-opacity="1" filter="url(#bl)"/>
<text x="353.5" y="340.9" font-size="9.5" text-anchor="end" font-weight="normal" >GAPDH</text>
<text x="475.5" y="342.1" font-size="9.2" text-anchor="start" font-weight="normal" >37 kDa</text>
<text x="313.8" y="358.2" font-size="9.2" text-anchor="start" font-weight="normal" >IMA</text>
<text x="337.4" y="358.2" font-size="9.2" text-anchor="start" font-weight="normal" >1μM</text>
<text x="372.5" y="358.0" font-size="9.2" text-anchor="middle" font-weight="normal" >-</text>
<text x="399.5" y="358.0" font-size="9.2" text-anchor="middle" font-weight="normal" >-</text>
<text x="427" y="358.0" font-size="9.2" text-anchor="middle" font-weight="normal" >+</text>
<text x="453" y="358.0" font-size="9.2" text-anchor="middle" font-weight="normal" >+</text>
</svg>
</body></html>
